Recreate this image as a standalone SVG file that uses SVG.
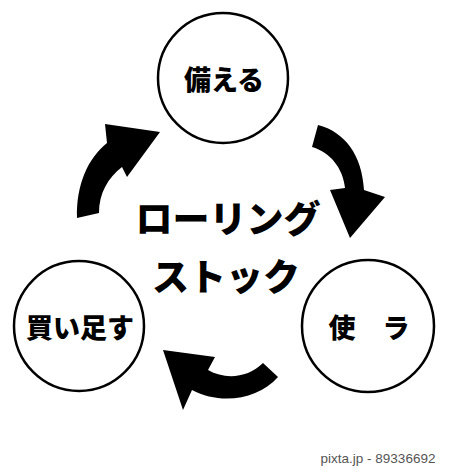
<svg xmlns="http://www.w3.org/2000/svg" width="450" height="469" viewBox="0 0 450 469">
<style>
.node circle{fill:#fff;stroke:#000;stroke-width:2.5}
.lbl{font-family:"Noto Sans CJK JP","Noto Sans",sans-serif;font-weight:900;fill:#000;text-anchor:middle}
.arrow{fill:#000;stroke:none}
</style>
<rect width="450" height="469" fill="#fff"/>
<g id="connectors">
<path class="arrow" d="M77,218 C76,185 88,158 107,143 L105,124 L160,132 L127,177 L122,167 C108,178 99,193 99,213 Z"/>
<path class="arrow" d="M318,125 C345,132 362,155 364,190 L385,197 L350,238 L330,190 L345,188 C343,168 330,152 312,147 Z"/>
<path class="arrow" d="M263,363 C248,378 225,380 208,370 L215,357 L163,350 L183,410 L192,390 C220,405 258,400 278,377 Z"/>
</g>
<g id="node-sonaeru" class="node">
<circle cx="223" cy="78" r="65"/>
<text class="lbl" x="224" y="90" font-size="27">備える</text>
</g>
<g id="node-tsukau" class="node">
<circle cx="368" cy="326" r="66"/>
<text class="lbl" x="369" y="338" font-size="27">使　ラ</text>
</g>
<g id="node-kaitasu" class="node">
<circle cx="79" cy="326" r="65"/>
<text class="lbl" x="80" y="338" font-size="27">買い足す</text>
</g>
<g id="title">
<text class="lbl" x="228" y="233" font-size="37">ローリング</text>
<text class="lbl" x="226" y="291" font-size="37">ストック</text>
</g>
<text x="378" y="463" font-family="Liberation Sans,Arial,sans-serif" font-size="13.5" fill="#555" text-anchor="middle">pixta.jp - 89336692</text>
</svg>
